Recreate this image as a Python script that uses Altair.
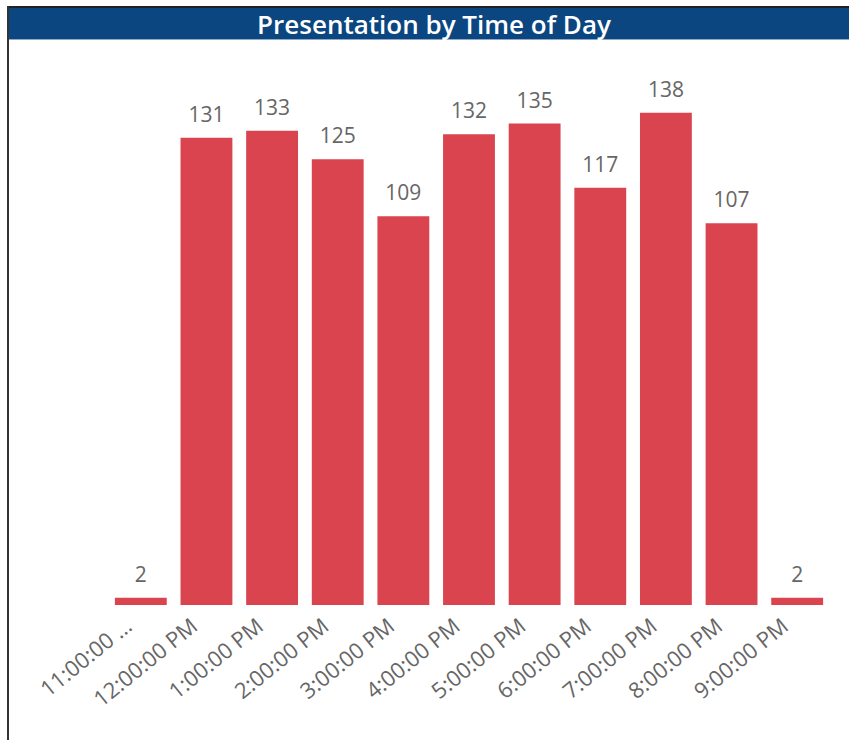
import altair as alt
import pandas as pd

# Presentations counted per hour slot
times = [
    "11:00:00 AM", "12:00:00 PM", "1:00:00 PM", "2:00:00 PM", "3:00:00 PM",
    "4:00:00 PM", "5:00:00 PM", "6:00:00 PM", "7:00:00 PM", "8:00:00 PM",
    "9:00:00 PM",
]
counts = [2, 131, 133, 125, 109, 132, 135, 117, 138, 107, 2]

title_text = "Presentation by Time of Day"

BAR = "#D9444F"
HEADER = "#0B4680"
TEXT = "#666666"
FONT = "Open Sans"

df = pd.DataFrame({"time": times, "count": counts})
one = pd.DataFrame({"k": [0]})

W, H = 722, 535
PAD = {"left": 108, "top": 70, "right": 19, "bottom": 135}

x = alt.X(
    "time:N",
    sort=times,
    title=None,
    scale=alt.Scale(paddingInner=0.21, paddingOuter=0.105),
    axis=alt.Axis(
        labelAngle=-39,
        labelAlign="right",
        labelBaseline="top",
        labelFontSize=22,
        labelFont=FONT,
        labelColor=TEXT,
        labelPadding=10,
        labelOffset=-18,
        domain=False,
        ticks=False,
        grid=False,
        labelExpr="datum.label == '11:00:00 AM' ? '11:00:00 …' : datum.label",
    ),
)
y = alt.Y("count:Q", title=None, scale=alt.Scale(domain=[0, 150]), axis=None)

bars = alt.Chart(df).mark_bar(color=BAR).encode(x=x, y=y)
labels = alt.Chart(df).mark_text(
    baseline="alphabetic", dy=-16, fontSize=21, font=FONT, color=TEXT
).encode(x=x, y=y, text="count:Q")

# header band across the top with its title
header = alt.Chart(one).mark_rect(color=HEADER).encode(
    x=alt.value(-99), x2=alt.value(741), y=alt.value(-62), y2=alt.value(-31)
)
header_edge = alt.Chart(one).mark_rule(color="#8FA9C9", strokeWidth=1).encode(
    x=alt.value(-99), x2=alt.value(741), y=alt.value(-30.5)
)
header_text = alt.Chart(one).mark_text(
    text=title_text, font=FONT, fontWeight=600, fontSize=26,
    color="white", align="center", baseline="alphabetic",
).encode(x=alt.value(326), y=alt.value(-36))

# visual frame: top and left edges
frame_top = alt.Chart(one).mark_rule(color="#222222", strokeWidth=2).encode(
    x=alt.value(-100), x2=alt.value(741), y=alt.value(-63)
)
frame_left = alt.Chart(one).mark_rule(color="#333333", strokeWidth=2).encode(
    x=alt.value(-100), y=alt.value(-64), y2=alt.value(670)
)

chart = alt.layer(
    bars, labels, header, header_edge, header_text, frame_top, frame_left
).properties(
    width=W, height=H,
    autosize=alt.AutoSizeParams(type="none"),
    padding=PAD,
    background="white",
).configure_view(strokeWidth=0, stroke=None)

chart.save("out.html", embed_options={"renderer": "svg", "actions": False})
